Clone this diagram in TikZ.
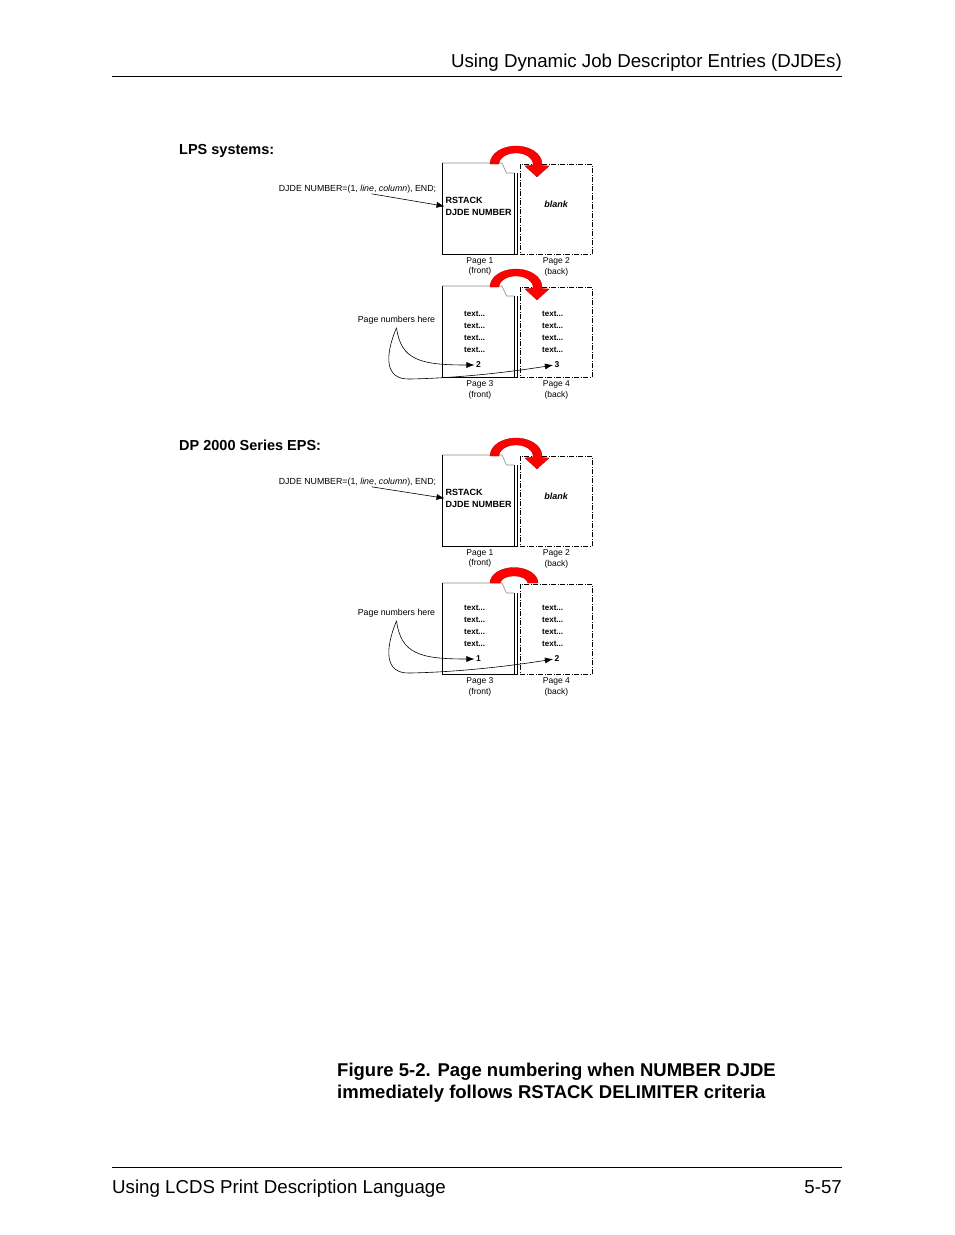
\documentclass[tikz,border=0pt]{standalone}
\usepackage{fontspec}
\setmainfont{Liberation Sans}
\usetikzlibrary{positioning,arrows.meta}
\tikzset{
  frontpage/.style={draw=black, line width=0.7pt},
  fold/.style={draw=black!45, line width=0.6pt},
  pagearea/.style={rectangle, minimum width=75.5pt, minimum height=91pt, inner sep=0pt, anchor=north west},
  backpage/.style={rectangle, draw=black, line width=0.7pt, dash pattern=on 5pt off 1.5pt on 1pt off 1.5pt,
    minimum width=72pt, minimum height=90pt, inner sep=0pt, anchor=north west},
  redturn/.style={fill=red, draw=red!70!black, line width=0.3pt},
  line/.style={draw, line width=0.6pt, -{Latex[length=8pt,width=6pt]}, shorten >=1pt},
  rule/.style={draw=black, line width=0.8pt},
  headtxt/.style={font=\fontsize{18.7}{22}\selectfont, inner sep=0pt},
  sect/.style={font=\bfseries\fontsize{14.5}{17}\selectfont, anchor=base west, inner sep=0pt},
  note/.style={font=\fontsize{8.8}{10}\selectfont, inner sep=0.5pt},
  onpage/.style={font=\bfseries\fontsize{9}{12}\selectfont, inner sep=0pt, align=left},
  textline/.style={font=\bfseries\fontsize{8}{9}\selectfont, inner sep=0pt, anchor=west},
  pnum/.style={font=\bfseries\fontsize{8.5}{9}\selectfont, inner sep=0.5pt},
  pglabel/.style={font=\fontsize{8.5}{10.5}\selectfont, align=center, inner sep=0pt},
}

\begin{document}
\begin{tikzpicture}[x=1pt,y=-1pt]
  \fill[white] (0,0) rectangle (954,1235);
  \useasboundingbox (0,0) rectangle (954,1235);

  % page header and footer
  \node[headtxt, anchor=base east] (hdr) at (842,67) {Using Dynamic Job Descriptor Entries (DJDEs)};
  \draw[rule] (112,76) -- (842,76);
  \draw[rule] (112,1167) -- (842,1167);
  \node[headtxt, anchor=base west] (ftl) at (112,1193) {Using LCDS Print Description Language};
  \node[headtxt, anchor=base east] (ftr) at (842,1193) {5-57};

  \node[sect] (lps) at (179,154) {LPS systems:};
  \node[sect] (dps) at (179,450) {DP 2000 Series EPS:};

  % LPS, pages 1 and 2
  \begin{scope}[shift={(0,163)}]
    \node[pagearea] (p1) at (442,0) {};
    \draw[fold] (442,0) -- (502,0) -- (506.5,10) -- (514,10);
    \draw[frontpage] (442,0) -- (442,91) -- (517.5,91) -- (517.5,10);
    \draw[frontpage, line width=0.5pt] (514,10) -- (514,91);
    \node[backpage] (p2) at (520,1) {};
    \filldraw[redturn] plot[domain=180:-5,samples=30] ({516+26*cos(\x)},{1-18*sin(\x)})
      -- (549,3) -- (537,14) -- (525,3)
      -- plot[domain=-5:180,samples=30] ({516+17*cos(\x)},{1-11*sin(\x)}) -- cycle;
    \node[onpage, anchor=north west] (rs1) at (445.5,34) {RSTACK\\DJDE NUMBER};
    \node[onpage, font=\bfseries\itshape\fontsize{9}{12}\selectfont] (bl1) at (556,41) {blank};
    \node[note] (dj1) at (357.5,26) {DJDE NUMBER=(1, \textit{line}, \textit{column}), END;};
    \node[pglabel, below=3pt of p1] (l1) {Page 1\\(front)};
    \node[pglabel, below=3pt of p2] (l2) {Page 2\\(back)};
    \path[line] ([xshift=14pt]dj1.south) -- (rs1.west);
  \end{scope}

  % LPS, pages 3 and 4
  \begin{scope}[shift={(0,286)}]
    \node[pagearea] (p3) at (442,0) {};
    \draw[fold] (442,0) -- (502,0) -- (506.5,10) -- (514,10);
    \draw[frontpage] (442,0) -- (442,91) -- (517.5,91) -- (517.5,10);
    \draw[frontpage, line width=0.5pt] (514,10) -- (514,91);
    \node[backpage] (p4) at (520,1) {};
    \filldraw[redturn] plot[domain=180:-5,samples=30] ({516+26*cos(\x)},{1-18*sin(\x)})
      -- (549,3) -- (537,14) -- (525,3)
      -- plot[domain=-5:180,samples=30] ({516+17*cos(\x)},{1-11*sin(\x)}) -- cycle;
    \node[textline] (t3a) at (464,28) {text...};
    \node[textline] (t3b) at (464,40) {text...};
    \node[textline] (t3c) at (464,52) {text...};
    \node[textline] (t3d) at (464,64) {text...};
    \node[textline] (t4a) at (542,28) {text...};
    \node[textline] (t4b) at (542,40) {text...};
    \node[textline] (t4c) at (542,52) {text...};
    \node[textline] (t4d) at (542,64) {text...};
    \node[pnum] (n3) at (478.5,79) {2};
    \node[pnum] (n4) at (557,79) {3};
    \node[note] (pn1) at (396.5,34) {Page numbers here};
    \node[pglabel, below=3pt of p3] (l3) {Page 3\\(front)};
    \node[pglabel, below=3pt of p4] (l4) {Page 4\\(back)};
    \path[line] ([yshift=-3pt]pn1.south) .. controls (401,74) and (420,79) .. (n3.west);
    \path[line] ([yshift=-3pt]pn1.south) .. controls (385,69) and (384,94) .. (410,93)
      .. controls (460,92) and (510,86) .. (n4.west);
  \end{scope}

  % DP 2000, pages 1 and 2
  \begin{scope}[shift={(0,455)}]
    \node[pagearea] (q1) at (442,0) {};
    \draw[fold] (442,0) -- (502,0) -- (506.5,10) -- (514,10);
    \draw[frontpage] (442,0) -- (442,91) -- (517.5,91) -- (517.5,10);
    \draw[frontpage, line width=0.5pt] (514,10) -- (514,91);
    \node[backpage] (q2) at (520,1) {};
    \filldraw[redturn] plot[domain=180:-5,samples=30] ({516+26*cos(\x)},{1-18*sin(\x)})
      -- (549,3) -- (537,14) -- (525,3)
      -- plot[domain=-5:180,samples=30] ({516+17*cos(\x)},{1-11*sin(\x)}) -- cycle;
    \node[onpage, anchor=north west] (rs2) at (445.5,34) {RSTACK\\DJDE NUMBER};
    \node[onpage, font=\bfseries\itshape\fontsize{9}{12}\selectfont] (bl2) at (556,41) {blank};
    \node[note] (dj2) at (357.5,27) {DJDE NUMBER=(1, \textit{line}, \textit{column}), END;};
    \node[pglabel, below=3pt of q1] (m1) {Page 1\\(front)};
    \node[pglabel, below=3pt of q2] (m2) {Page 2\\(back)};
    \path[line] ([xshift=14pt]dj2.south) -- (rs2.west);
  \end{scope}

  % DP 2000, pages 3 and 4
  \begin{scope}[shift={(0,583)}]
    \node[pagearea] (q3) at (442,0) {};
    \draw[fold] (442,0) -- (502,0) -- (506.5,10) -- (514,10);
    \draw[frontpage] (442,0) -- (442,91) -- (517.5,91) -- (517.5,10);
    \draw[frontpage, line width=0.5pt] (514,10) -- (514,91);
    \node[backpage] (q4) at (520,1) {};
    \filldraw[redturn] plot[domain=180:0,samples=30] ({514+24*cos(\x)},{-15.5*sin(\x)})
      -- plot[domain=0:180,samples=30] ({514+13.5*cos(\x)},{-7*sin(\x)}) -- cycle;
    \node[textline] (u3a) at (464,25) {text...};
    \node[textline] (u3b) at (464,37) {text...};
    \node[textline] (u3c) at (464,49) {text...};
    \node[textline] (u3d) at (464,61) {text...};
    \node[textline] (u4a) at (542,25) {text...};
    \node[textline] (u4b) at (542,37) {text...};
    \node[textline] (u4c) at (542,49) {text...};
    \node[textline] (u4d) at (542,61) {text...};
    \node[pnum] (k3) at (478.5,76) {1};
    \node[pnum] (k4) at (557,76) {2};
    \node[note] (pn2) at (396.5,30) {Page numbers here};
    \node[pglabel, below=3pt of q3] (m3) {Page 3\\(front)};
    \node[pglabel, below=3pt of q4] (m4) {Page 4\\(back)};
    \path[line] ([yshift=-3pt]pn2.south) .. controls (401,71) and (420,76) .. (k3.west);
    \path[line] ([yshift=-3pt]pn2.south) .. controls (385,66) and (384,91) .. (410,90)
      .. controls (460,89) and (510,83) .. (k4.west);
  \end{scope}

  \node[font=\bfseries\fontsize{18.5}{22}\selectfont, anchor=north west, align=left, inner sep=0pt] (cap)
    at (337,1062.5) {Figure 5-2. Page numbering when NUMBER DJDE\\immediately follows RSTACK DELIMITER criteria};
\end{tikzpicture}
\end{document}
